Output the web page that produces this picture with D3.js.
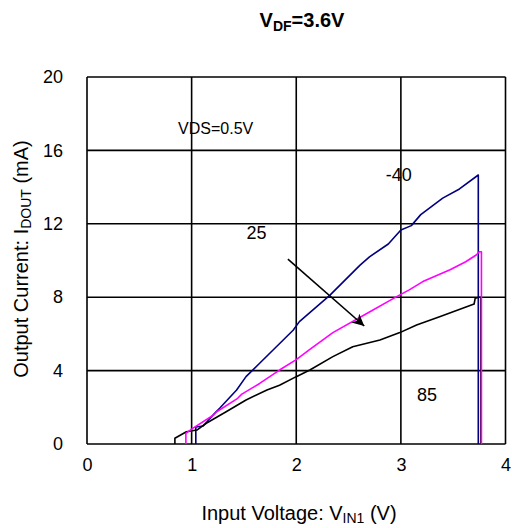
<!DOCTYPE html>
<html>
<head>
<meta charset="utf-8">
<script src="https://cdn.jsdelivr.net/npm/d3@7"></script>
<style>
  html, body { margin: 0; padding: 0; background: #fff; }
  svg { display: block; font-family: "Liberation Sans", Arial, sans-serif; }
</style>
</head>
<body>
<svg id="chart" width="512" height="528"></svg>
<script>
// ---- data ----
const xTicks = [0, 1, 2, 3, 4];
const yTicks = [0, 4, 8, 12, 16, 20];

const vMinus40 = [1.04, 1.04, 1.11, 1.22, 1.27, 1.43, 1.52, 1.65, 1.81, 1.97, 2.03, 2.32, 2.61, 2.70, 2.88, 3.00, 3.10, 3.19, 3.40, 3.56, 3.74, 3.74];
const iMinus40 = [0, 0.93, 0.98, 1.67, 1.96, 2.94, 3.67, 4.4, 5.3, 6.2, 6.67, 8.1, 9.75, 10.2, 10.9, 11.66, 11.9, 12.5, 13.4, 13.9, 14.66, 0];

const v25 = [0.945, 0.945, 1.01, 1.21, 1.24, 1.44, 1.48, 1.65, 1.84, 2.0, 2.13, 2.35, 2.67, 2.96, 3.08, 3.21, 3.47, 3.62, 3.72, 3.75, 3.77, 3.77];
const i25 = [0, 0.58, 0.85, 1.58, 1.76, 2.49, 2.72, 3.3, 4.03, 4.6, 5.16, 6.07, 7.1, 8.03, 8.4, 8.85, 9.5, 9.93, 10.3, 10.48, 10.48, 0];

const v85 = [0.84, 0.84, 0.95, 1.05, 1.14, 1.33, 1.52, 1.72, 1.84, 2.0, 2.13, 2.35, 2.54, 2.80, 2.99, 3.15, 3.37, 3.59, 3.70, 3.71, 3.75, 3.765, 3.765];
const i85 = [0, 0.31, 0.67, 0.76, 1.13, 1.76, 2.4, 2.94, 3.2, 3.67, 4.03, 4.76, 5.3, 5.67, 6.07, 6.49, 6.94, 7.4, 7.63, 7.94, 8.0, 8.0, 0];

const seriesNames = ["-40", "25", "85"];
const seriesColors = ["#000080", "#FF00FF", "#000000"];

const labelTexts = ["VDS=0.5V", "-40", "25", "85"];
const labelV = [1.23, 2.98, 1.62, 3.25];
const labelI = [16.9, 14.33, 11.17, 2.36];

const arrowV = [1.92, 2.65];
const arrowI = [10.08, 6.43];

// ---- layout ----
const svg = d3.select("#chart");
const x = d3.scaleLinear().domain([0, 4]).range([87, 505.5]);
const y = d3.scaleLinear().domain([0, 20]).range([444, 77]);

svg.append("defs").append("marker")
  .attr("id", "arrowhead")
  .attr("viewBox", "0 0 10 10")
  .attr("refX", 10).attr("refY", 5)
  .attr("markerWidth", 12).attr("markerHeight", 12)
  .attr("markerUnits", "userSpaceOnUse")
  .attr("orient", "auto")
  .append("path").attr("d", "M0,0 L10,5 L0,10 L3,5 Z").attr("fill", "#000");

// gridlines
const grid = svg.append("g");
grid.selectAll("line.h").data(yTicks).enter().append("line")
  .attr("x1", x(0)).attr("x2", x(4))
  .attr("y1", d => y(d)).attr("y2", d => y(d))
  .attr("stroke", "#000").attr("stroke-width", 1.6);
grid.selectAll("line.v").data(xTicks).enter().append("line")
  .attr("y1", y(0)).attr("y2", y(20))
  .attr("x1", d => x(d)).attr("x2", d => x(d))
  .attr("stroke", "#000").attr("stroke-width", 1.6);

// axes (labels only)
const xAxis = d3.axisBottom(x).tickValues(xTicks).tickSize(0).tickPadding(14).tickFormat(d3.format("d"));
const gx = svg.append("g").attr("transform", `translate(0,${y(0)})`).call(xAxis);
gx.select(".domain").remove();
gx.selectAll("text").attr("font-size", 18).attr("fill", "#000").attr("font-family", "Liberation Sans, Arial, sans-serif");

const yAxis = d3.axisLeft(y).tickValues(yTicks).tickSize(0).tickPadding(24).tickFormat(d3.format("d"));
const gy = svg.append("g").attr("transform", `translate(${x(0)},0)`).call(yAxis);
gy.select(".domain").remove();
gy.selectAll("text").attr("font-size", 18).attr("fill", "#000").attr("font-family", "Liberation Sans, Arial, sans-serif");

// series
const vs = [vMinus40, v25, v85];
const is = [iMinus40, i25, i85];
const line = d3.line().x(d => x(d[0])).y(d => y(d[1]));
// draw order: -40 first, then 85, then 25 on top
[0, 2, 1].forEach(k => {
  const pts = vs[k].map((v, j) => [v, is[k][j]]);
  svg.append("path").datum(pts)
    .attr("d", line)
    .attr("fill", "none")
    .attr("stroke", seriesColors[k])
    .attr("stroke-width", 1.6)
    .attr("stroke-linejoin", "round");
});

// arrow
svg.append("line")
  .attr("x1", x(arrowV[0])).attr("y1", y(arrowI[0]))
  .attr("x2", x(arrowV[1])).attr("y2", y(arrowI[1]))
  .attr("stroke", "#000").attr("stroke-width", 1.6)
  .attr("marker-end", "url(#arrowhead)");

// annotations
labelTexts.forEach((t, k) => {
  svg.append("text")
    .attr("x", x(labelV[k])).attr("y", y(labelI[k]))
    .attr("text-anchor", "middle")
    .attr("font-size", k === 0 ? 16 : 18)
    .attr("fill", "#000")
    .text(t);
});

// title
const title = svg.append("text").attr("x", 302).attr("y", 27)
  .attr("text-anchor", "middle").attr("font-size", 20).attr("font-weight", "bold");
title.append("tspan").text("V");
title.append("tspan").attr("font-size", 14).attr("dy", 4).text("DF");
title.append("tspan").attr("dy", -4).text("=3.6V");

// x title
const xt = svg.append("text").attr("x", 299).attr("y", 520)
  .attr("text-anchor", "middle").attr("font-size", 20);
xt.append("tspan").text("Input Voltage: V");
xt.append("tspan").attr("font-size", 14).attr("dy", 3).text("IN1");
xt.append("tspan").attr("dy", -3).text(" (V)");

// y title
const yt = svg.append("text").attr("transform", "translate(28,259) rotate(-90)")
  .attr("text-anchor", "middle").attr("font-size", 20);
yt.append("tspan").text("Output Current: I");
yt.append("tspan").attr("font-size", 14).attr("dy", 3).text("DOUT");
yt.append("tspan").attr("dy", -3).text(" (mA)");
</script>
</body>
</html>
